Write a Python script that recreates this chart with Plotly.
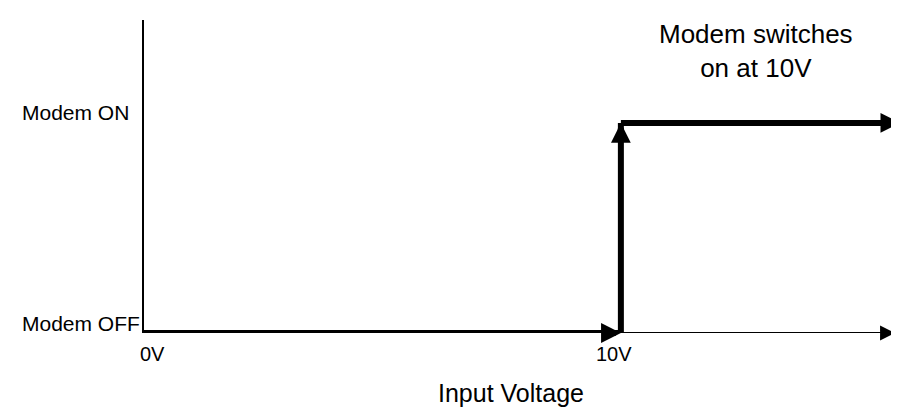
import plotly.graph_objects as go

# ---- data ----
voltage_off = [0, 10]          # thick OFF segment (V)
voltage_rise = [10, 10]        # switching point (V)
voltage_on = [10, 15.86]       # thick ON segment (V)
axis_end = 15.75               # end of thin voltage axis arrow
state_off = 0
state_on = 1
state_max = 1.49
x_max = 16
x_tick_vals = [0, 10]
x_tick_text = ["0V", "10V"]
y_tick_vals = [state_off, state_on]
y_tick_text = ["Modem OFF", "Modem ON"]
note_text = "Modem switches<br>on at 10V"
x_title = "Input Voltage"

FONT = "Arial, Liberation Sans, sans-serif"
W, H = 899, 410
ML, MR, MT, MB = 136, 0, 12, 85
PW, PH = W - ML - MR, H - MT - MB

fig = go.Figure()

# thin voltage axis
fig.add_trace(go.Scatter(
    x=[0, axis_end], y=[state_off, state_off], mode="lines",
    line=dict(color="black", width=2), cliponaxis=False, hoverinfo="skip"))

# thick step response
fig.add_trace(go.Scatter(
    x=voltage_off + [None] + voltage_rise + [None] + voltage_on,
    y=[state_off, state_off, None, state_off, state_on, None, state_on, state_on],
    mode="lines", line=dict(color="black", width=6),
    cliponaxis=False, hoverinfo="skip"))

anns = []


def head(x, y, ax, ay, width, size):
    anns.append(dict(x=x, y=y, xref="x", yref="y", ax=ax, ay=ay,
                     showarrow=True, arrowhead=2, arrowwidth=width,
                     arrowsize=size, arrowcolor="black", text=""))


head(voltage_off[1], state_off, -12, 0, 6, 0.66)
head(voltage_rise[1], state_on, 0, 12, 6, 0.66)
head(voltage_on[1], state_on, -12, 0, 6, 0.66)
head(axis_end, state_off, -10, 0, 1.5, 2.0)

# y labels (left aligned)
for v, t in zip(y_tick_vals, y_tick_text):
    anns.append(dict(x=(12 - ML) / PW, xref="paper", y=v, yref="y",
                     text=t, showarrow=False, xanchor="left", yanchor="middle",
                     yshift=10, font=dict(family=FONT, size=21, color="black")))

# x labels
for v, t, xs in zip(x_tick_vals, x_tick_text, [8, -7]):
    anns.append(dict(x=v, xref="x", y=state_off, yref="y", text=t,
                     showarrow=False, xanchor="center", yanchor="middle",
                     xshift=xs, yshift=-21,
                     font=dict(family=FONT, size=20, color="black")))

# axis title
anns.append(dict(x=(503 - ML) / PW, xref="paper", y=0, yref="paper",
                 text=x_title, showarrow=False, xanchor="center", yanchor="bottom",
                 borderpad=0, yshift=-75,
                 font=dict(family=FONT, size=25, color="black")))

# note
anns.append(dict(x=(748 - ML) / PW, xref="paper",
                 y=(H - MB - 43) / PH, yref="paper",
                 text=note_text, showarrow=False, xanchor="center", yanchor="middle",
                 font=dict(family=FONT, size=26, color="black")))

fig.update_layout(
    width=W, height=H,
    margin=dict(l=ML, r=MR, t=MT, b=MB, pad=0),
    plot_bgcolor="white", paper_bgcolor="white",
    showlegend=False,
    xaxis=dict(range=[0, x_max], showgrid=False, zeroline=False, showline=False,
               showticklabels=False, ticks="", fixedrange=True),
    yaxis=dict(range=[0, state_max], showgrid=False, zeroline=False,
               showline=True, linecolor="black", linewidth=2,
               showticklabels=False, ticks="", fixedrange=True),
    annotations=anns,
)

fig.write_html("out.html")
